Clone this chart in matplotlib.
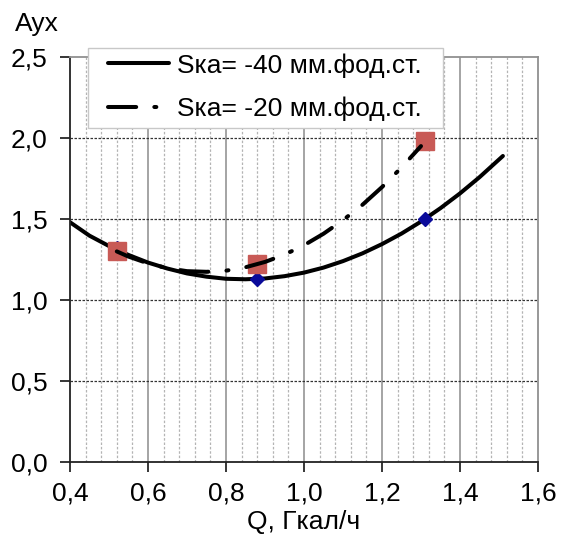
import matplotlib
matplotlib.use("Agg")
import matplotlib.pyplot as plt
from matplotlib.patches import Rectangle
import numpy as np

plt.rcParams['font.family'] = ['Liberation Sans', 'DejaVu Sans']

# Measured points
pts_x = [0.52, 0.88, 1.31]
s40_y = [1.32, 1.13, 1.50]      # blue diamonds
s20_y = [1.30, 1.22, 1.98]      # red squares

# Trend curve for Sка = -40
c40_x = [0.40, 0.45, 0.50, 0.55, 0.60, 0.65, 0.70, 0.75, 0.80, 0.85, 0.90,
         0.95, 1.00, 1.05, 1.10, 1.15, 1.20, 1.25, 1.30, 1.35, 1.40, 1.45, 1.51]
c40_y = [1.48, 1.397, 1.333, 1.278, 1.231, 1.194, 1.164, 1.144, 1.131, 1.128, 1.133,
         1.147, 1.169, 1.200, 1.240, 1.288, 1.345, 1.410, 1.484, 1.567, 1.658, 1.758, 1.889]

# Trend curve for Sка = -20
c20_x = [0.52, 0.55, 0.60, 0.65, 0.70, 0.75, 0.80, 0.85, 0.90, 0.95, 1.00,
         1.05, 1.10, 1.15, 1.20, 1.25, 1.30]
c20_y = [1.30, 1.268, 1.226, 1.196, 1.178, 1.174, 1.181, 1.202, 1.235, 1.280, 1.338,
         1.409, 1.493, 1.588, 1.697, 1.818, 1.95]

xticks = [0.4, 0.6, 0.8, 1.0, 1.2, 1.4, 1.6]
xticklabels = ['0,4', '0,6', '0,8', '1,0', '1,2', '1,4', '1,6']
yticks = [0.0, 0.5, 1.0, 1.5, 2.0, 2.5]
yticklabels = ['0,0', '0,5', '1,0', '1,5', '2,0', '2,5']
xminor = [0.44, 0.48, 0.52, 0.56, 0.64, 0.68, 0.72, 0.76, 0.84, 0.88, 0.92, 0.96,
          1.04, 1.08, 1.12, 1.16, 1.24, 1.28, 1.32, 1.36, 1.44, 1.48, 1.52, 1.56]

FS = 19
W, H = 562, 535

fig = plt.figure(figsize=(W/100, H/100), dpi=100)
ax = fig.add_axes([70/W, 1-462/H, 468/W, 405/H])

ax.set_xlim(0.4, 1.6)
ax.set_ylim(0, 2.5)

# grids
for x in xminor:
    ax.axvline(x, color='#b4b4b4', lw=0.9, ls=(0, (2, 1.5)), zorder=0)
for x in xticks[1:-1]:
    ax.axvline(x, color='#8c8c8c', lw=1.1, zorder=0.5)
for y in yticks[1:-1]:
    ax.axhline(y, color='#333333', lw=0.9, ls=(0, (2, 1.2)), zorder=0.6)

ax.plot(c40_x, c40_y, color='black', lw=2.9, solid_capstyle='round', zorder=2,
        label='Sка= -40 мм.фод.ст.')
ax.plot(pts_x, s40_y, ls='none', marker='D', ms=7, color='#0a0a9a', zorder=3)
ax.plot(pts_x, s20_y, ls='none', marker='s', ms=12.5, color='#c85a56',
        markeredgecolor='#c85a56', zorder=4)
ax.plot(c20_x, c20_y, color='black', lw=2.9, ls=(0, (7, 4.5, 0.5, 4.5)),
        dash_capstyle='round', zorder=5, label='Sка= -20 мм.фод.ст.')

ax.set_xticks(xticks)
ax.set_xticklabels(xticklabels)
ax.set_yticks(yticks)
ax.set_yticklabels(yticklabels)
ax.tick_params(axis='both', labelsize=FS, direction='out', length=7, width=1.1,
               color='black', pad=7)
ax.tick_params(axis='y', pad=9)

for s in ['left', 'bottom']:
    ax.spines[s].set_color('#222222')
    ax.spines[s].set_linewidth(1.3)
for s in ['top', 'right']:
    ax.spines[s].set_color('#909090')
    ax.spines[s].set_linewidth(1.3)

ax.set_xlabel('Q, Гкал/ч', fontsize=FS, labelpad=3)
fig.text(15/W, 1-31/H, 'Аух', fontsize=FS, ha='left', va='baseline')

# legend frame
frame = Rectangle((88/W, 1-128/H), 355/W, 80/H, transform=fig.transFigure,
                  facecolor='white', edgecolor='#c8c8c8', lw=1.0, zorder=9,
                  clip_on=False)
ax.add_patch(frame)

leg = ax.legend(loc='upper left', bbox_to_anchor=(108/W, 1-53/H),
                bbox_transform=fig.transFigure, fontsize=FS,
                frameon=False, handlelength=2.3, handletextpad=0.3,
                labelspacing=0.72, borderpad=0, borderaxespad=0)
leg.set_zorder(10)

fig.savefig('out.png', dpi=100)
